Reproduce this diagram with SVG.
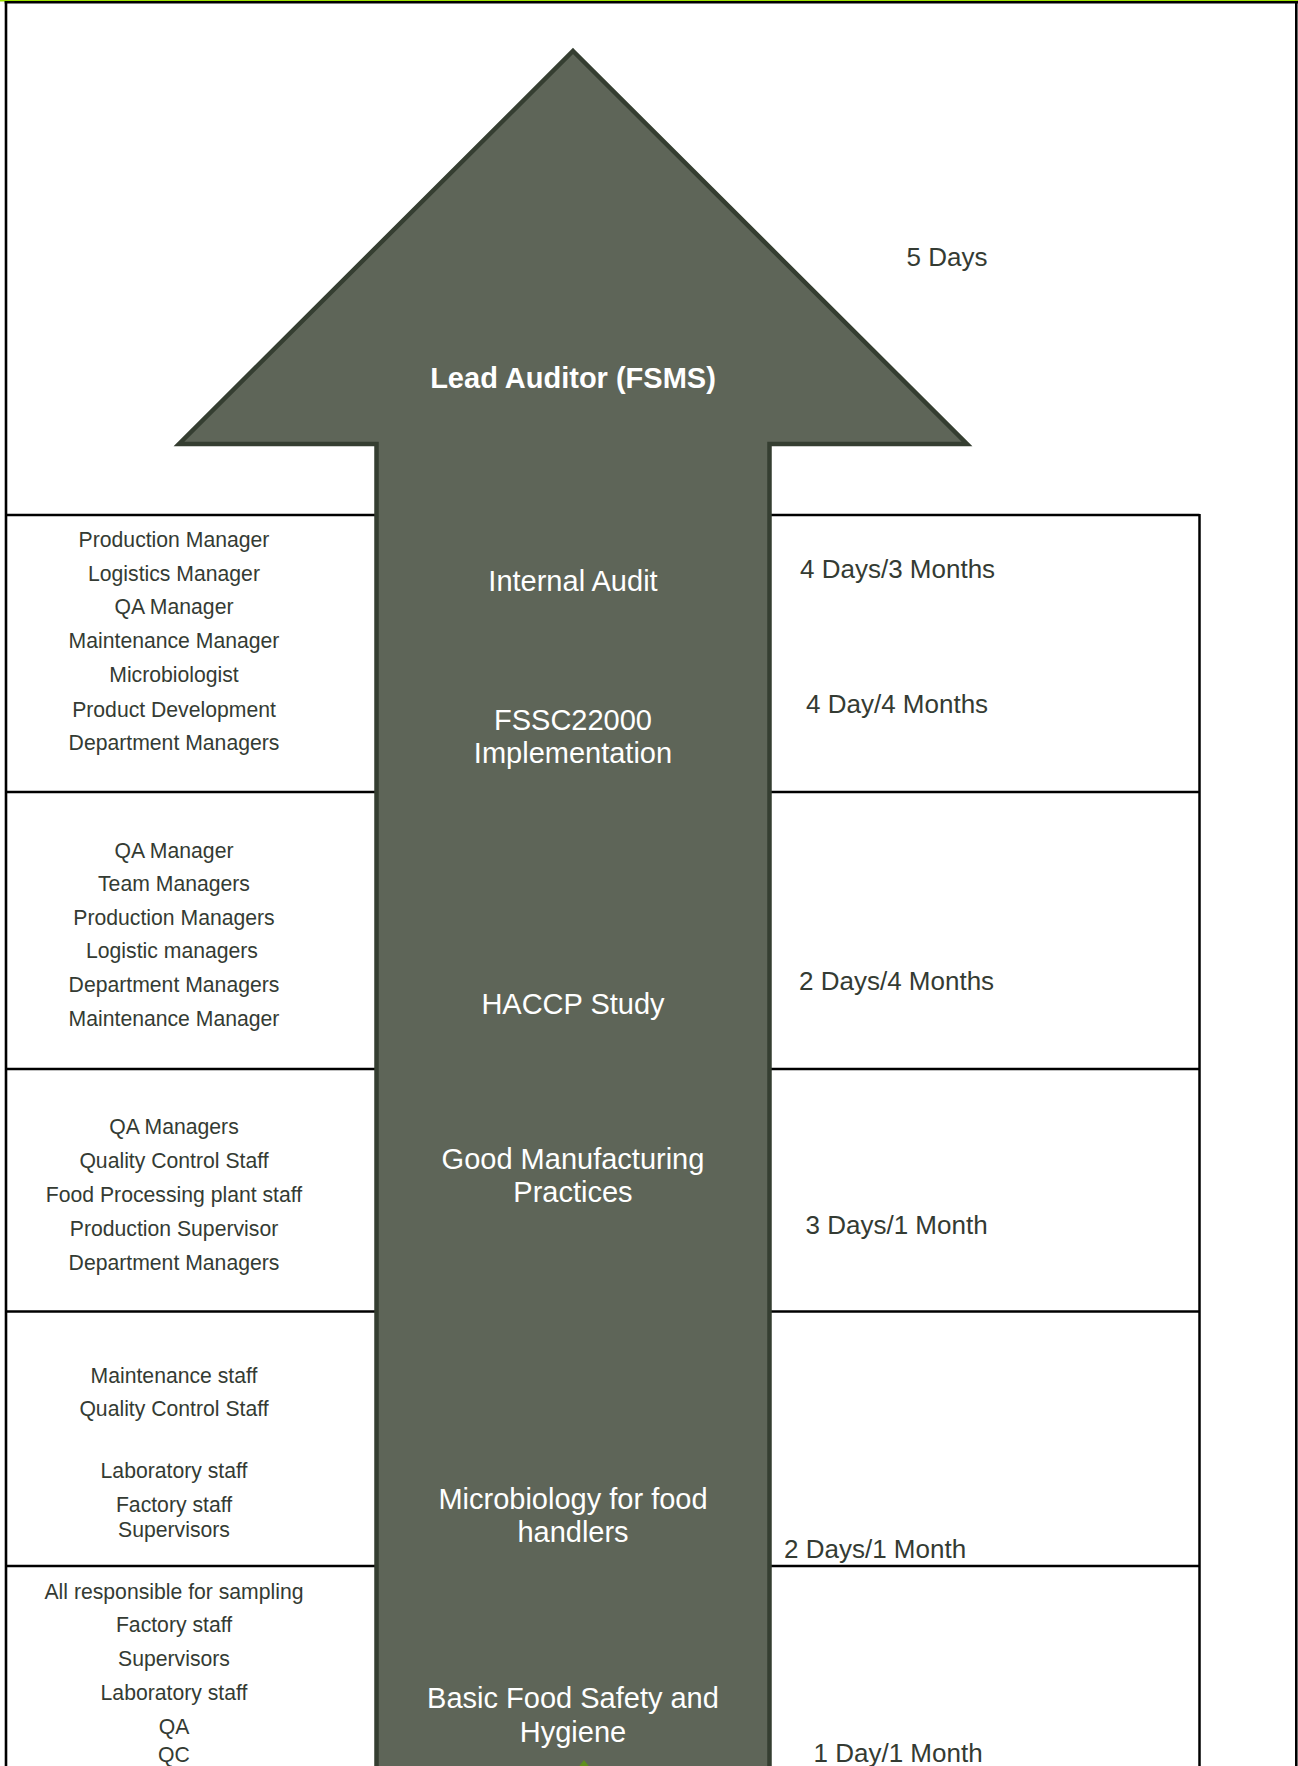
<svg xmlns="http://www.w3.org/2000/svg" width="1298" height="1766" viewBox="0 0 1298 1766">
<style>
  .frame { stroke: #000; stroke-width: 2.6; fill: none; }
  .grid { stroke: #000; stroke-width: 2.5; fill: none; }
  .who { font-family: "Liberation Sans", Arial, sans-serif; font-size: 21.2px; fill: #343b33; text-anchor: middle; }
  .course { font-family: "Liberation Sans", Arial, sans-serif; font-size: 29px; fill: #ffffff; text-anchor: middle; }
  .lead { font-weight: bold; }
  .dur { font-family: "Liberation Sans", Arial, sans-serif; font-size: 26px; fill: #343b33; }
</style>
<rect x="0" y="0" width="1298" height="1766" fill="#ffffff"/>
<g id="frame">
  <line x1="0" y1="0.7" x2="1298" y2="0.7" stroke="#9be000" stroke-width="1.6"/>
  <line x1="4.7" y1="2.3" x2="1298" y2="2.3" class="frame"/>
  <line x1="6" y1="1" x2="6" y2="1766" class="frame"/>
  <line x1="1296.3" y1="1" x2="1296.3" y2="1766" class="frame"/>
</g>
<g id="grid">
  <line x1="6" y1="515" x2="1199.5" y2="515" class="grid"/>
  <line x1="6" y1="792" x2="1199.5" y2="792" class="grid"/>
  <line x1="6" y1="1069" x2="1199.5" y2="1069" class="grid"/>
  <line x1="6" y1="1311.5" x2="1199.5" y2="1311.5" class="grid"/>
  <line x1="6" y1="1566" x2="1199.5" y2="1566" class="grid"/>
  <line x1="1199.5" y1="514" x2="1199.5" y2="1766" class="grid"/>
</g>
<g id="arrow">
  <polygon points="573,51 967,444 769.5,444 769.5,1772 376.5,1772 376.5,444 179,444" fill="#5e6558" stroke="#353e31" stroke-width="4.5" stroke-linejoin="miter"/>
  <polygon points="584,1760 578.5,1767 589.5,1767" fill="#5f8f1c"/>
</g>
<g id="node-lead">
  <text class="course lead" x="573" y="388">Lead Auditor (FSMS)</text>
  <text class="dur" x="906.5" y="266">5 Days</text>
</g>
<g id="node-internal-audit">
  <text class="course" x="573" y="591">Internal Audit</text>
  <text class="dur" x="800" y="578">4 Days/3 Months</text>
</g>
<g id="node-fssc">
  <text class="course" x="573" y="729.5">FSSC22000</text>
  <text class="course" x="573" y="763">Implementation</text>
  <text class="dur" x="806" y="713">4 Day/4 Months</text>
</g>
<g id="row1-who">
  <text class="who" x="174" y="547">Production Manager</text>
  <text class="who" x="174" y="581">Logistics Manager</text>
  <text class="who" x="174" y="614">QA Manager</text>
  <text class="who" x="174" y="648">Maintenance Manager</text>
  <text class="who" x="174" y="682">Microbiologist</text>
  <text class="who" x="174" y="716.5">Product Development</text>
  <text class="who" x="174" y="750">Department Managers</text>
</g>
<g id="node-haccp">
  <text class="course" x="573" y="1014">HACCP Study</text>
  <text class="dur" x="799" y="990">2 Days/4 Months</text>
  <text class="who" x="174" y="857.5">QA Manager</text>
  <text class="who" x="174" y="891">Team Managers</text>
  <text class="who" x="174" y="924.5">Production Managers</text>
  <text class="who" x="172" y="958">Logistic managers</text>
  <text class="who" x="174" y="992">Department Managers</text>
  <text class="who" x="174" y="1026">Maintenance Manager</text>
</g>
<g id="node-gmp">
  <text class="course" x="573" y="1168.5">Good Manufacturing</text>
  <text class="course" x="573" y="1202">Practices</text>
  <text class="dur" x="805.5" y="1234">3 Days/1 Month</text>
  <text class="who" x="174" y="1133.5">QA Managers</text>
  <text class="who" x="174" y="1167.5">Quality Control Staff</text>
  <text class="who" x="174" y="1201.5">Food Processing plant staff</text>
  <text class="who" x="174" y="1235.5">Production Supervisor</text>
  <text class="who" x="174" y="1269.5">Department Managers</text>
</g>
<g id="node-micro">
  <text class="course" x="573" y="1508.5">Microbiology for food</text>
  <text class="course" x="573" y="1542">handlers</text>
  <text class="dur" x="784" y="1558">2 Days/1 Month</text>
  <text class="who" x="174" y="1382.5">Maintenance staff</text>
  <text class="who" x="174" y="1416">Quality Control Staff</text>
  <text class="who" x="174" y="1477.5">Laboratory staff</text>
  <text class="who" x="174" y="1511.5">Factory staff</text>
  <text class="who" x="174" y="1537">Supervisors</text>
</g>
<g id="node-basic">
  <text class="course" x="573" y="1707.5">Basic Food Safety and</text>
  <text class="course" x="573" y="1742">Hygiene</text>
  <text class="dur" x="813.5" y="1762">1 Day/1 Month</text>
  <text class="who" x="174" y="1598.5">All responsible for sampling</text>
  <text class="who" x="174" y="1632">Factory staff</text>
  <text class="who" x="174" y="1666">Supervisors</text>
  <text class="who" x="174" y="1699.5">Laboratory staff</text>
  <text class="who" x="174" y="1733.5">QA</text>
  <text class="who" x="174" y="1761.5">QC</text>
</g>
<g id="connectors"></g>
</svg>
